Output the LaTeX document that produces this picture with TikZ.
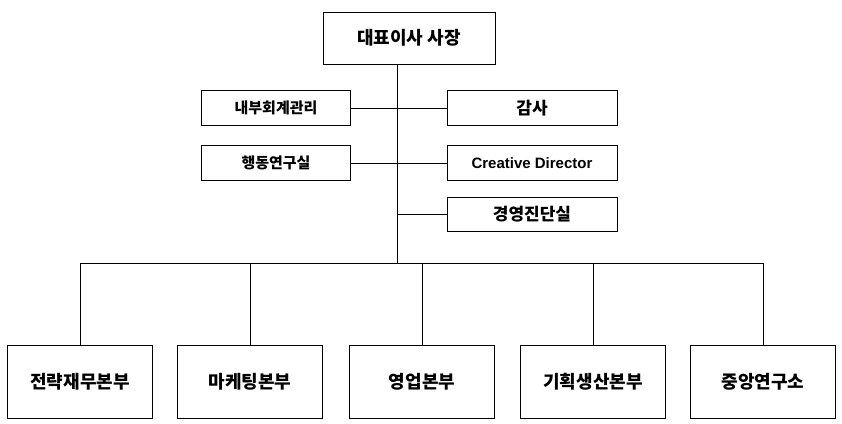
\documentclass[tikz,border=0pt]{standalone}
\usepackage{fontspec}
\setmainfont{Noto Sans CJK KR}
\newfontfamily\latinfont{Liberation Sans}
\usepackage{tikz}
\tikzstyle{unit} = [rectangle, draw, line width=0.8pt, inner sep=0pt, font=\bfseries]
\tikzstyle{line} = [draw, line width=0.8pt]

\begin{document}
\begin{tikzpicture}[x=1pt, y=-1pt]
		\useasboundingbox (0,0) rectangle (842,423);
		% Place nodes
		\node [unit, minimum width=172, minimum height=52, font=\bfseries\fontsize{18}{20}\selectfont] (ceo) at (409,38) {대표이사 사장};
		\node [unit, minimum width=149, minimum height=35, font=\bfseries\fontsize{15}{17}\selectfont] (audit1) at (276,108) {내부회계관리};
		\node [unit, minimum width=149, minimum height=35, font=\bfseries\fontsize{15}{17}\selectfont] (lab) at (276,163) {행동연구실};
		\node [unit, minimum width=170, minimum height=35, font=\bfseries\fontsize{17}{19}\selectfont] (audit2) at (532,108) {감사};
		\node [unit, minimum width=170, minimum height=35, font=\latinfont\bfseries\fontsize{15}{17}\selectfont] (cd) at (532,163) {Creative Director};
		\node [unit, minimum width=170, minimum height=34, font=\bfseries\fontsize{17}{19}\selectfont] (diag) at (532,214) {경영진단실};
		\coordinate (top) at (397,64);
		\coordinate (bus) at (397,263);
		\coordinate (branch) at (397,214);
		\foreach \name/\x/\txt in {fin/80/전략재무본부, mkt/250/마케팅본부, sales/422/영업본부, plan/593/기획생산본부, rnd/763/중앙연구소}
		{
			\node [unit, minimum width=145, minimum height=73, font=\bfseries\fontsize{18}{20}\selectfont] (\name) at (\x,382) {\txt};
			\coordinate (\name top) at (\x,263);
		}
		% Draw edges
		\path [line] (top) -- (bus);
		\path [line] (audit1.east) -- (audit2.west);
		\path [line] (lab.east) -- (cd.west);
		\path [line] (branch) -- (diag.west);
		\path [line] (fintop) -- (rndtop);
		\foreach \name in {fin, mkt, sales, plan, rnd}
			\path [line] (\name top) -- (\name);
	\end{tikzpicture}
\end{document}
